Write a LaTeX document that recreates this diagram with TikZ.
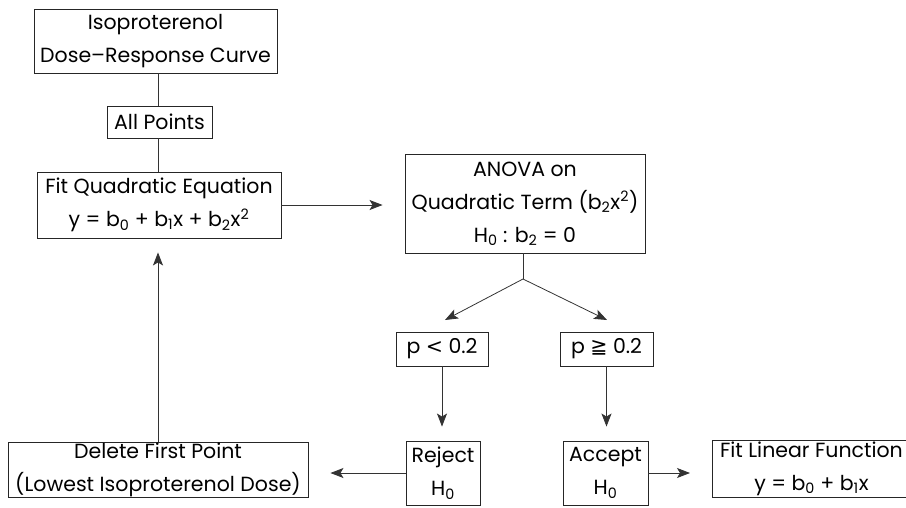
\documentclass[tikz,border=0pt]{standalone}
\usepackage{fontspec}
\setmainfont{Poppins}
\newfontfamily\symfont{DejaVu Sans}
\usetikzlibrary{arrows.meta,calc}
\begin{document}
\begin{tikzpicture}[x=1pt,y=-1pt,
  box/.style={draw=black!85,line width=0.9pt,inner sep=0pt,align=center,
    font=\fontsize{20.5}{33}\selectfont},
  conn/.style={draw=black!80,line width=0.8pt},
  arr/.style={conn,-{Stealth[length=13pt,width=10pt,inset=3pt]}}]
\useasboundingbox (0,0) rectangle (906,507);
\node[box,minimum width=243pt,minimum height=64pt] (iso) at (155.5,41) {Isoproterenol\\Dose–Response Curve};
\node[box,minimum width=105pt,minimum height=32pt] (all) at (159.5,122) {All Points};
\node[box,minimum width=244pt,minimum height=66pt] (quad) at (159,205) {Fit Quadratic Equation\\y = b\textsubscript{0} + b\textsubscript{1}x + b\textsubscript{2}x\textsuperscript{2}};
\node[box,minimum width=240pt,minimum height=99pt] (anova) at (525,203.5) {ANOVA on\\Quadratic Term (b\textsubscript{2}x\textsuperscript{2})\\H\textsubscript{0} : b\textsubscript{2} = 0};
\node[box,minimum width=92pt,minimum height=34pt] (plt) at (442,349) {p {\symfont <} 0.2};
\node[box,minimum width=93pt,minimum height=34pt] (pge) at (606.5,349) {p {\symfont ≧} 0.2};
\node[box,minimum width=74pt,minimum height=64pt] (rej) at (443,473) {Reject\\H\textsubscript{0}};
\node[box,minimum width=85pt,minimum height=64pt] (acc) at (605.5,473) {Accept\\H\textsubscript{0}};
\node[box,minimum width=300pt,minimum height=55pt] (del) at (158,469.5) {Delete First Point\\(Lowest Isoproterenol Dose)};
\node[box,minimum height=57pt,anchor=west] (lin) at (712,468.5)
  {\makebox[240pt][l]{\parbox{198pt}{\centering Fit Linear Function\\y = b\textsubscript{0} + b\textsubscript{1}x}}};
\coordinate (br) at (523,279);
\coordinate (brL) at (445,320);
\coordinate (brR) at (607,320);
\draw[conn] (iso.south -| all.north) ++(-1.5,0) coordinate (isoS) -- (isoS |- all.north);
\draw[conn] (all.south) ++(-1.5,0) coordinate (allS) -- (allS |- quad.north);
\draw[arr,shorten >=22pt] (quad.east) -- (quad.east -| anova.west);
\draw[conn] (anova.south) ++(-2,0) coordinate (anS) -- (br);
\draw[arr] (br) -- (brL);
\draw[arr] (br) -- (brR);
\draw[arr,shorten >=14pt] (plt.south) -- (plt.south |- rej.north);
\draw[arr,shorten >=14pt] (pge.south) -- (pge.south |- acc.north);
\draw[arr,shorten >=22pt] (rej.west) -- (rej.west -| del.east);
\draw[arr,shorten >=22pt] (acc.east) -- (acc.east -| lin.west);
\draw[arr,shorten >=14pt] (del.north) -- (del.north |- quad.south);
\end{tikzpicture}
\end{document}
